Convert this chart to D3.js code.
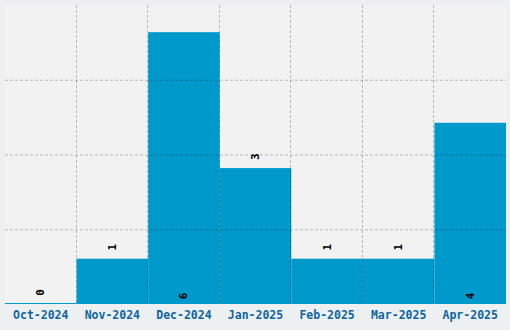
<!DOCTYPE html>
<html>
<head>
<meta charset="utf-8">
<script src="https://cdn.jsdelivr.net/npm/d3@7"></script>
<style>
  body { margin: 0; background: #edf0f1; }
  svg { display: block; }
</style>
</head>
<body>
<script>
var months = ["Oct-2024", "Nov-2024", "Dec-2024", "Jan-2025", "Feb-2025", "Mar-2025", "Apr-2025"];
var counts = [0, 1, 6, 3, 1, 1, 4];

var W = 510, H = 330;
var plot = {left: 5, top: 5, right: 506, bottom: 304};

var x = d3.scaleBand()
          .domain(months)
          .range([plot.left, plot.right])
          .padding(0);

var y = d3.scaleLinear()
          .domain([0, d3.max(counts) * 1.1])
          .range([plot.bottom, plot.top]);

var svg = d3.select("body")
            .append("svg")
            .attr("width", W)
            .attr("height", H);

//plot background
svg.append("rect")
   .attr("x", plot.left)
   .attr("y", plot.top)
   .attr("width", plot.right - plot.left)
   .attr("height", plot.bottom - plot.top)
   .attr("fill", "#f2f2f2");

var data = months.map(function(m, i){ return {month: m, value: counts[i]}; });

//bars
svg.append("g")
   .selectAll("rect")
   .data(data)
   .enter()
   .append("rect")
   .attr("x", function(d){ return x(d.month); })
   .attr("width", x.bandwidth())
   .attr("y", function(d){ return Math.min(y(d.value), y(0) - 1); })
   .attr("height", function(d){ return Math.max(1, y(0) - y(d.value)); })
   .attr("fill", "#0099cc");

//grid: 4 equal horizontal divisions, vertical lines at band edges
var grid = svg.append("g")
              .attr("stroke", "rgba(0,0,0,0.23)")
              .attr("stroke-dasharray", "3,2")
              .attr("fill", "none");

[1, 2, 3].forEach(function(k){
    var gy = plot.bottom - (plot.bottom - plot.top) * k / 4;
    grid.append("line")
        .attr("x1", plot.left).attr("x2", plot.right)
        .attr("y1", gy + 0.5).attr("y2", gy + 0.5);
});

months.slice(1).forEach(function(m){
    var gx = Math.round(x(m)) - 0.5;
    grid.append("line")
        .attr("x1", gx).attr("x2", gx)
        .attr("y1", plot.top).attr("y2", plot.bottom);
});

//value labels, rotated; inside the bar base when tall, above otherwise
svg.append("g")
   .selectAll("text")
   .data(data)
   .enter()
   .append("text")
   .attr("transform", function(d){
       var cx = x(d.month) + x.bandwidth() / 2;
       var tall = y(0) - y(d.value) > 150;
       var cy = tall ? y(0) - 8 : y(d.value) - 11.5;
       return "translate(" + cx + "," + cy + ") rotate(-90)";
   })
   .attr("text-anchor", "middle")
   .attr("dominant-baseline", "central")
   .attr("font-family", "DejaVu Sans Mono")
   .attr("font-weight", "bold")
   .attr("font-size", 11)
   .attr("fill", "#000")
   .text(function(d){ return d.value; });

//category labels
svg.append("g")
   .selectAll("text")
   .data(months)
   .enter()
   .append("text")
   .attr("x", function(d){ return x(d) + x.bandwidth() / 2; })
   .attr("y", 319)
   .attr("text-anchor", "middle")
   .attr("font-family", "DejaVu Sans Mono")
   .attr("font-weight", "bold")
   .attr("font-size", 11.5)
   .attr("fill", "#0d66a0")
   .text(function(d){ return d; });
</script>
</body>
</html>
